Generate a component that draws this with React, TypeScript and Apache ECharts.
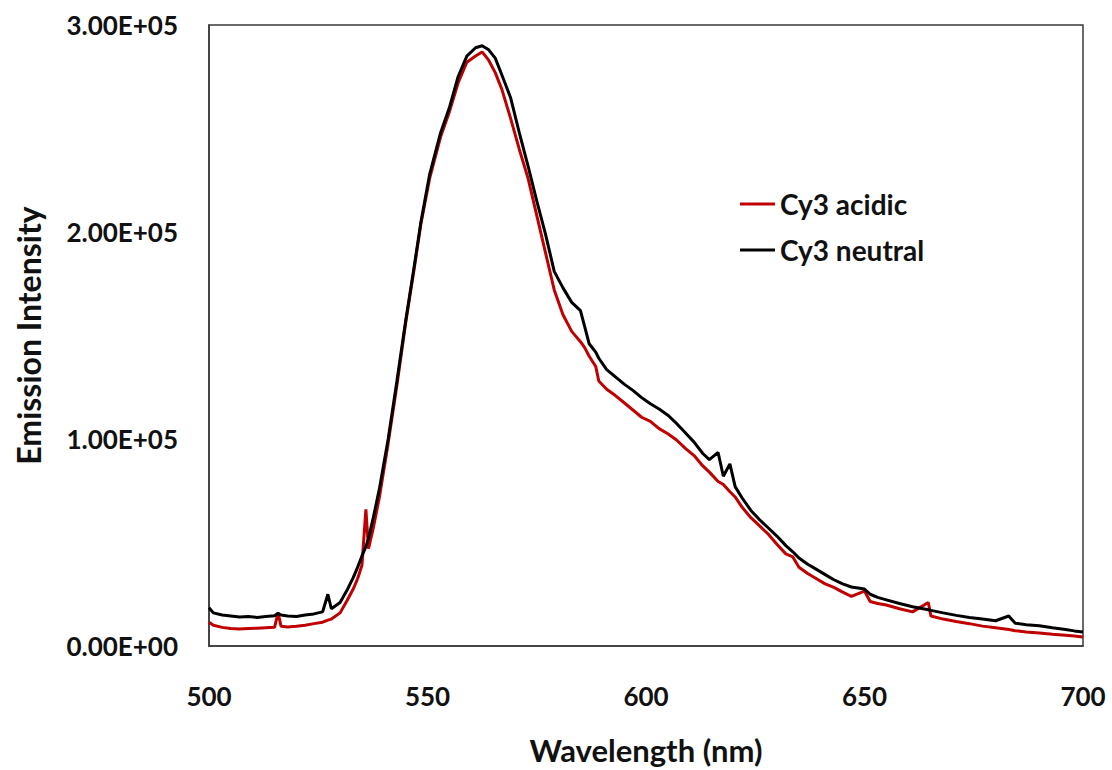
import React, { useEffect, useRef } from "react";
import * as echarts from "echarts";

const wavelengths = [
  500, 501, 503, 505, 507, 509, 511, 513, 515, 515.8, 516.5, 518, 520, 522, 524, 526, 527.2, 528, 530, 531.6,
  533, 534, 535, 535.9, 536.5, 537.6, 539, 541, 543, 545, 547, 548.5, 550.5, 553, 555, 557, 559, 561, 562.5,
  564, 565.5, 567, 569, 571, 573, 575, 577, 579, 581, 583, 585, 586, 587, 588.5, 589.2, 591, 593, 595, 597,
  599, 601, 603, 605, 607, 609, 611, 613, 614.5, 616.5, 617.7, 619.2, 620.4, 622, 624, 626, 628, 630, 632,
  633.6, 635, 637, 639, 641, 643, 645, 647, 650, 651.3, 653, 655, 658, 661, 664.6, 665.2, 668, 671, 674, 677,
  680, 683, 684.5, 687, 690, 693, 696, 698, 700,
];

const neutral = [
  18500, 16000, 15000, 14500, 14000, 14300, 13800, 14200, 14600, 15800, 15000, 14500, 14300, 15000, 15500, 16500, 25000, 18000, 21000, 27000,
  33000, 38000, 43500, 48000, 52000, 62000, 76000, 100000, 128000, 157000, 184000, 205000, 228000, 248000, 260000, 275000, 285000, 289000, 290000,
  288000, 284000, 276000, 265000, 248000, 232000, 215000, 199000, 181000, 173000, 166000, 162000, 154000, 146000, 142000, 139000, 133500, 130000, 126500, 123500,
  120000, 117000, 114500, 111500, 107500, 103000, 98500, 93000, 90000, 93500, 82000, 88000, 77000, 71500, 65500, 61000, 57000, 53000, 48500,
  45500, 42500, 39500, 37000, 34500, 32000, 30000, 28500, 27500, 25000, 23500, 22300, 20500, 19000, 17500, 17200, 16000, 14800, 13800, 13000,
  12200, 14500, 11000, 10300, 9800, 8800, 8000, 7300, 6800,
];

const acidic = [
  11500, 10000, 9000, 8500, 8200, 8400, 8600, 8800, 9000, 16000, 9500, 9200, 9500, 10000, 10800, 11500, 12500, 13000, 16000, 22000,
  27500, 32500, 39000, 66000, 47000, 57000, 72000, 98000, 126000, 156000, 183000, 204000, 226000, 246000, 258000, 272000, 282000, 285000, 287000,
  283000, 277000, 269000, 255000, 240000, 226000, 208000, 190000, 172000, 160000, 152000, 147000, 144000, 140000, 135000, 128000, 124000, 121000, 117500, 114000,
  110500, 108500, 105000, 102500, 99500, 95500, 92000, 87000, 84000, 79500, 78000, 74500, 72000, 67000, 62000, 58000, 54000, 49000, 44500,
  43000, 38000, 35000, 32500, 30000, 28300, 26000, 24000, 26500, 21500, 20500, 19800, 18000, 16500, 21000, 14500, 13000, 11800, 10800, 9600,
  8800, 8000, 7400, 6800, 6300, 5700, 5200, 4800, 4300,
];

const seriesNames = ["Cy3 acidic", "Cy3 neutral"];
const seriesColors = ["#C00000", "#000000"];
const yTicks = [0, 100000, 200000, 300000];

const FONT = "Lato, 'Open Sans', sans-serif";

export default function App() {
  const ref = useRef<HTMLDivElement>(null);
  useEffect(() => {
    if (!ref.current) return;
    const chart = echarts.init(ref.current, undefined, { renderer: "svg" });
    const pairs = (vals: number[]) => wavelengths.map((w, i) => [w, vals[i]]);
    chart.setOption({
      animation: false,
      backgroundColor: "#ffffff",
      grid: {
        left: 209,
        right: 29,
        top: 25,
        bottom: 123,
        show: true,
        borderColor: "#3a3a3a",
        borderWidth: 1.5,
        backgroundColor: "transparent",
      },
      legend: {
        orient: "vertical",
        left: 735,
        top: 185,
        itemWidth: 35,
        itemHeight: 3,
        itemGap: 18,
        icon: "rect",
        data: seriesNames,
        textStyle: { fontFamily: FONT, fontWeight: "bold", fontSize: 28, color: "#111" },
      },
      xAxis: {
        type: "value",
        min: 500,
        max: 700,
        interval: 50,
        name: "Wavelength (nm)",
        nameLocation: "middle",
        nameGap: 88,
        nameTextStyle: { fontFamily: FONT, fontWeight: "bold", fontSize: 31, color: "#111" },
        axisLine: { show: true, lineStyle: { color: "#3a3a3a", width: 1.5 } },
        axisTick: { show: false },
        splitLine: { show: false },
        axisLabel: { fontFamily: FONT, fontWeight: "bold", fontSize: 26, color: "#111", margin: 37 },
      },
      yAxis: {
        type: "value",
        min: 0,
        max: 300000,
        interval: 100000,
        name: "Emission Intensity",
        nameLocation: "middle",
        nameGap: 165,
        nameRotate: 90,
        nameTextStyle: { fontFamily: FONT, fontWeight: "bold", fontSize: 32, color: "#111" },
        axisLine: { show: true, lineStyle: { color: "#3a3a3a", width: 1.5 } },
        axisTick: { show: false },
        splitLine: { show: false },
        axisLabel: {
          fontFamily: FONT,
          fontWeight: "bold",
          fontSize: 26,
          color: "#111",
          margin: 31,
          formatter: (v: number) => {
            const idx = yTicks.indexOf(v);
            if (idx < 0) return "";
            return v === 0 ? "0.00E+00" : (v / 100000).toFixed(2) + "E+05";
          },
        },
      },
      series: [
        {
          name: seriesNames[0],
          type: "line",
          data: pairs(acidic),
          showSymbol: false,
          lineStyle: { color: seriesColors[0], width: 3 },
          itemStyle: { color: seriesColors[0] },
          z: 2,
        },
        {
          name: seriesNames[1],
          type: "line",
          data: pairs(neutral),
          showSymbol: false,
          lineStyle: { color: seriesColors[1], width: 3 },
          itemStyle: { color: seriesColors[1] },
          z: 3,
        },
      ],
    });
    return () => chart.dispose();
  }, []);
  return (
    <div
      ref={ref}
      style={{ position: "fixed", left: 0, top: 0, width: 1112, height: 770, background: "#fff" }}
    />
  );
}
